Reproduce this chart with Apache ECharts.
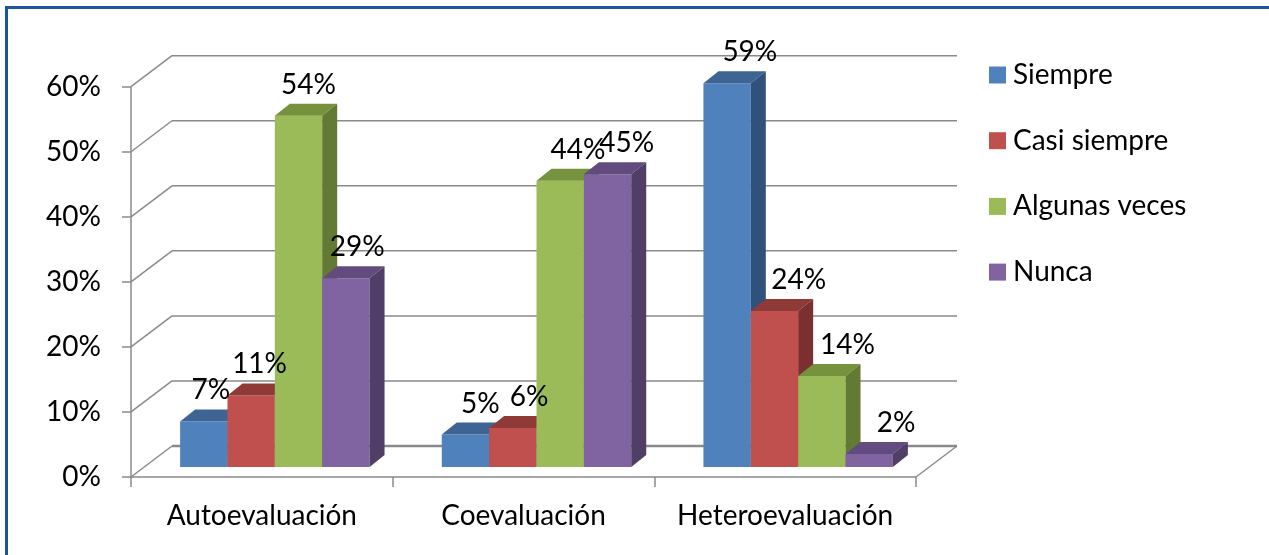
<!DOCTYPE html>
<html>
<head>
<meta charset="utf-8">
<script src="https://cdn.jsdelivr.net/npm/echarts@6/dist/echarts.min.js"></script>
<style>
html,body{margin:0;padding:0;background:#fff;}
#chart{width:1269px;height:555px;}
</style>
</head>
<body>
<div id="chart"></div>
<script>
// ---- data ----
const categories = ['Autoevaluación', 'Coevaluación', 'Heteroevaluación'];
const seriesNames = ['Siempre', 'Casi siempre', 'Algunas veces', 'Nunca'];
const siempre = [7, 5, 59];
const casiSiempre = [11, 6, 24];
const algunasVeces = [54, 44, 14];
const nunca = [29, 45, 2];
const yTicks = [0, 10, 20, 30, 40, 50, 60];

// ---- styles ----
const FONT = 'Lato';
const FS = 28;
const faceColors = [
  { front: '#4f81bd', top: '#3d6493', side: '#30517b' },
  { front: '#c0504d', top: '#903a38', side: '#7b2f2e' },
  { front: '#9bbb59', top: '#76923c', side: '#627a34' },
  { front: '#8064a2', top: '#614b7f', side: '#503e67' }
];
const GRID_COLOR = '#8a8a8a';
const WALL_DX = 41, WALL_DY = -31;   // depth of the back wall
const BAR_OFF_X = 13, BAR_OFF_Y = -10; // plane of bar fronts
const BAR_DX = 15, BAR_DY = -12;     // depth of a bar
const BAR_FRAC = 0.181;              // bar width / band width
const LABEL_DX = 17, LABEL_DRIFT = 0.03, LABEL_DY = -31; // perspective-like label drift

const seriesData = [siempre, casiSiempre, algunasVeces, nunca];

function wallsRender(params, api) {
  const cs = params.coordSys;
  const x0 = cs.x, x1 = cs.x + cs.width;
  const children = [];
  yTicks.forEach(function (v) {
    const yf = api.coord([0, v])[1];
    children.push({
      type: 'line',
      shape: { x1: x0 + WALL_DX, y1: yf + WALL_DY, x2: x1 + WALL_DX, y2: yf + WALL_DY },
      style: { stroke: GRID_COLOR, lineWidth: v === 0 ? 2.5 : 1.5 }
    });
    children.push({
      type: 'line',
      shape: { x1: x0, y1: yf, x2: x0 + WALL_DX, y2: yf + WALL_DY },
      style: { stroke: GRID_COLOR, lineWidth: 1.5 }
    });
  });
  const y0 = api.coord([0, 0])[1];
  children.push({
    type: 'line',
    shape: { x1: x1, y1: y0, x2: x1 + WALL_DX, y2: y0 + WALL_DY },
    style: { stroke: GRID_COLOR, lineWidth: 1.5 }
  });
  return { type: 'group', children: children };
}

function makeBarRender(k) {
  return function (params, api) {
    const cs = params.coordSys;
    const cat = api.value(0);
    const val = api.value(1);
    const base = api.coord([cat, 0]);
    const topPt = api.coord([cat, val]);
    const bandW = api.size([1, 0])[0];
    const w = bandW * BAR_FRAC;
    const left = base[0] + BAR_OFF_X - 2 * w + k * w;
    const yb = base[1] + BAR_OFF_Y;
    const yt = topPt[1] + BAR_OFF_Y;
    const c = faceColors[k];
    const cx = left + w / 2;
    const mid = cs.x + cs.width / 2 + BAR_OFF_X;
    const lx = cx + LABEL_DX + LABEL_DRIFT * (cx - mid);
    return {
      type: 'group',
      children: [
        { type: 'rect', shape: { x: left, y: yt, width: w, height: yb - yt }, style: { fill: c.front } },
        { type: 'polygon', shape: { points: [[left, yt], [left + w, yt], [left + w + BAR_DX, yt + BAR_DY], [left + BAR_DX, yt + BAR_DY]] }, style: { fill: c.top } },
        { type: 'polygon', shape: { points: [[left + w, yt], [left + w + BAR_DX, yt + BAR_DY], [left + w + BAR_DX, yb + BAR_DY], [left + w, yb]] }, style: { fill: c.side } },
        { type: 'text', z2: 100, style: { x: lx, y: yt + LABEL_DY, text: val + '%', align: 'center', verticalAlign: 'middle', fill: '#000', font: FS + 'px ' + FONT } }
      ]
    };
  };
}

const series = [{
  type: 'custom',
  name: '__walls',
  renderItem: wallsRender,
  data: [[0, 0]],
  clip: false,
  silent: true,
  z: 1
}];
seriesNames.forEach(function (name, k) {
  series.push({
    type: 'custom',
    name: name,
    renderItem: makeBarRender(k),
    data: seriesData[k].map(function (v, i) { return [i, v]; }),
    encode: { x: 0, y: 1 },
    itemStyle: { color: faceColors[k].front },
    clip: false,
    z: 2
  });
});

const chart = echarts.init(document.getElementById('chart'), null, { renderer: 'canvas' });
chart.setOption({
  animation: false,
  backgroundColor: '#ffffff',
  textStyle: { fontFamily: FONT },
  grid: { left: 131, right: 353, top: 86.7, bottom: 78, containLabel: false },
  xAxis: {
    type: 'category',
    data: categories,
    boundaryGap: true,
    axisLine: { show: true, lineStyle: { color: GRID_COLOR, width: 1.5 } },
    axisTick: { show: true, length: 10, lineStyle: { color: GRID_COLOR, width: 1.5 } },
    axisLabel: { interval: 0, margin: 25, fontSize: FS, fontFamily: FONT, color: '#000' },
    splitLine: { show: false }
  },
  yAxis: {
    type: 'value',
    min: 0, max: 60, interval: 10,
    axisLine: { show: true, lineStyle: { color: GRID_COLOR, width: 1.5 } },
    axisTick: { show: true, length: 9, lineStyle: { color: GRID_COLOR, width: 1.5 } },
    axisLabel: { margin: 30, fontSize: FS, fontFamily: FONT, color: '#000', formatter: '{value}%' },
    splitLine: { show: false }
  },
  legend: {
    orient: 'vertical',
    left: 989,
    top: 60,
    padding: 0,
    icon: 'rect',
    itemWidth: 17,
    itemHeight: 17,
    itemGap: 35.7,
    data: seriesNames,
    textStyle: { fontSize: FS, fontFamily: FONT, color: '#000', lineHeight: 30, padding: [0, 0, 0, 2] }
  },
  graphic: [{
    type: 'rect',
    silent: true,
    shape: { x: 6.5, y: 7.5, width: 1400, height: 700 },
    style: { fill: 'none', stroke: '#1a55a0', lineWidth: 3 }
  }],
  series: series
});
</script>
</body>
</html>
